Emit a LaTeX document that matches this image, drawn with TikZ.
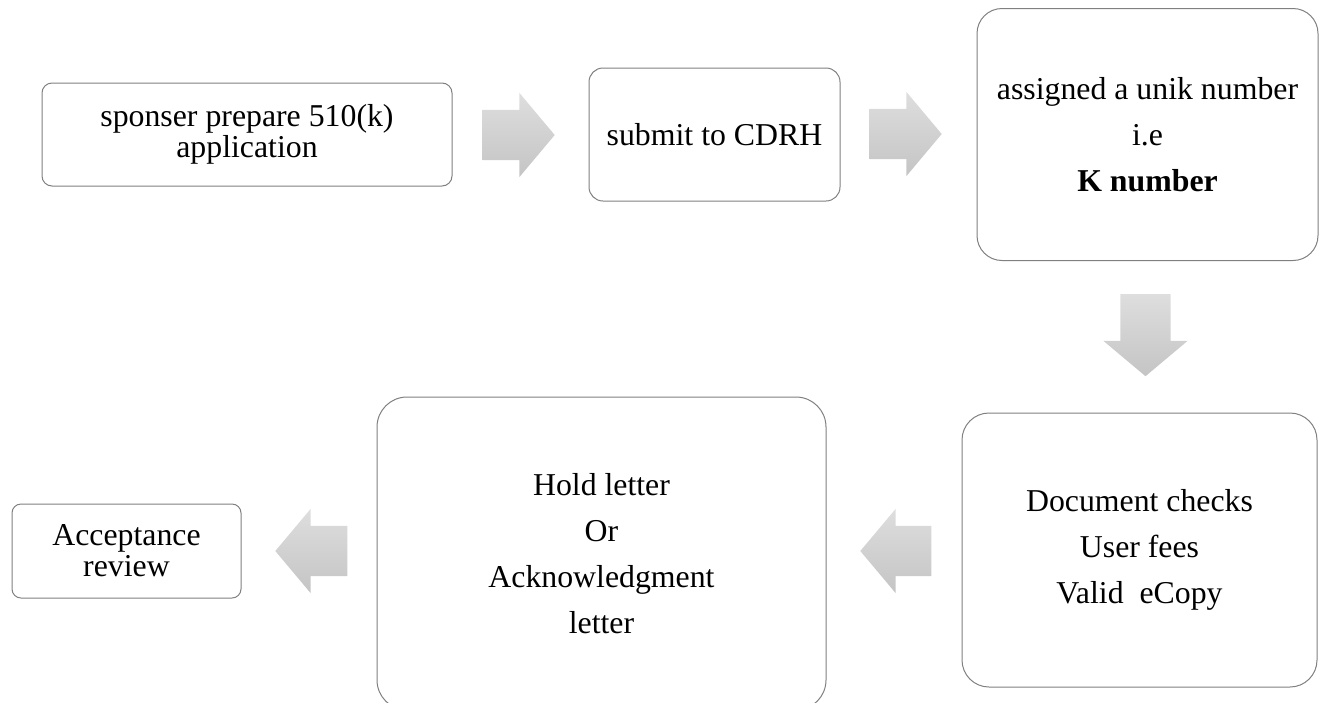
\documentclass[tikz,border=0pt]{standalone}
\usepackage{fontspec}
\setmainfont{Liberation Serif}
\usetikzlibrary{calc,positioning,shapes.arrows}

\begin{document}
\begin{tikzpicture}[x=1pt, y=-1pt,
                    stepbox/.style={draw=black!50, line width=1pt, fill=white, rounded corners=#1,
                                    align=center, inner sep=0pt, font=\fontsize{31.8}{31}\selectfont},
                    stepbox/.default=10pt,
                    flowarrow/.style={single arrow, draw=none, top color=black!13, bottom color=black!23,
                                      minimum height=72pt, inner xsep=0pt, inner ysep=25pt, anchor=tail,
                                      single arrow head extend=17pt, single arrow tip angle=100}]

    \clip (0,0) rectangle (1321,702);

    % upper row
    \node[stepbox, minimum width=410pt, minimum height=103pt] (sponsor) at (247,134.5)
            {sponser prepare 510(k)\\application};
    \node[stepbox=14pt, minimum width=251pt, minimum height=133pt, right=136pt of sponsor] (submit)
            {submit to CDRH};
    \node[stepbox=25pt, minimum width=341pt, minimum height=252pt, right=136pt of submit] (knumber)
            {assigned a unik number\\[15pt]i.e\\[15pt]\textbf{K number}};

    % lower row
    \node[stepbox=27pt, minimum width=355pt, minimum height=274pt] (checks) at (1139.5,550)
            {Document checks\\[15pt]User fees\\[15pt]Valid\ \ eCopy};
    \node[stepbox=30pt, minimum width=449pt, minimum height=313pt] (holdletter) at (601.5,553.5)
            {Hold letter\\[15pt]Or\\[15pt]Acknowledgment\\[15pt]letter};
    \node[stepbox=9pt, minimum width=229pt, minimum height=94pt] (acceptance) at (126.5,551)
            {Acceptance\\review};

    % arrows
    \node[flowarrow] (arrowA) at ($(sponsor.east)+(30,0.5)$) {};
    \node[flowarrow] (arrowB) at ($(submit.east)+(29,-0.5)$) {};
    \node[flowarrow, shape border rotate=270, minimum height=82pt, inner xsep=25pt, inner ysep=0pt] (arrowC)
            at ($(knumber.south)+(-2,33)$) {};
    \node[flowarrow, shape border rotate=180, minimum height=71pt] (arrowD)
            at ($(checks.west)+(-30,1)$) {};
    \node[flowarrow, shape border rotate=180] (arrowE)
            at ($(holdletter.west)+(-29,-2.5)$) {};
\end{tikzpicture}
\end{document}
